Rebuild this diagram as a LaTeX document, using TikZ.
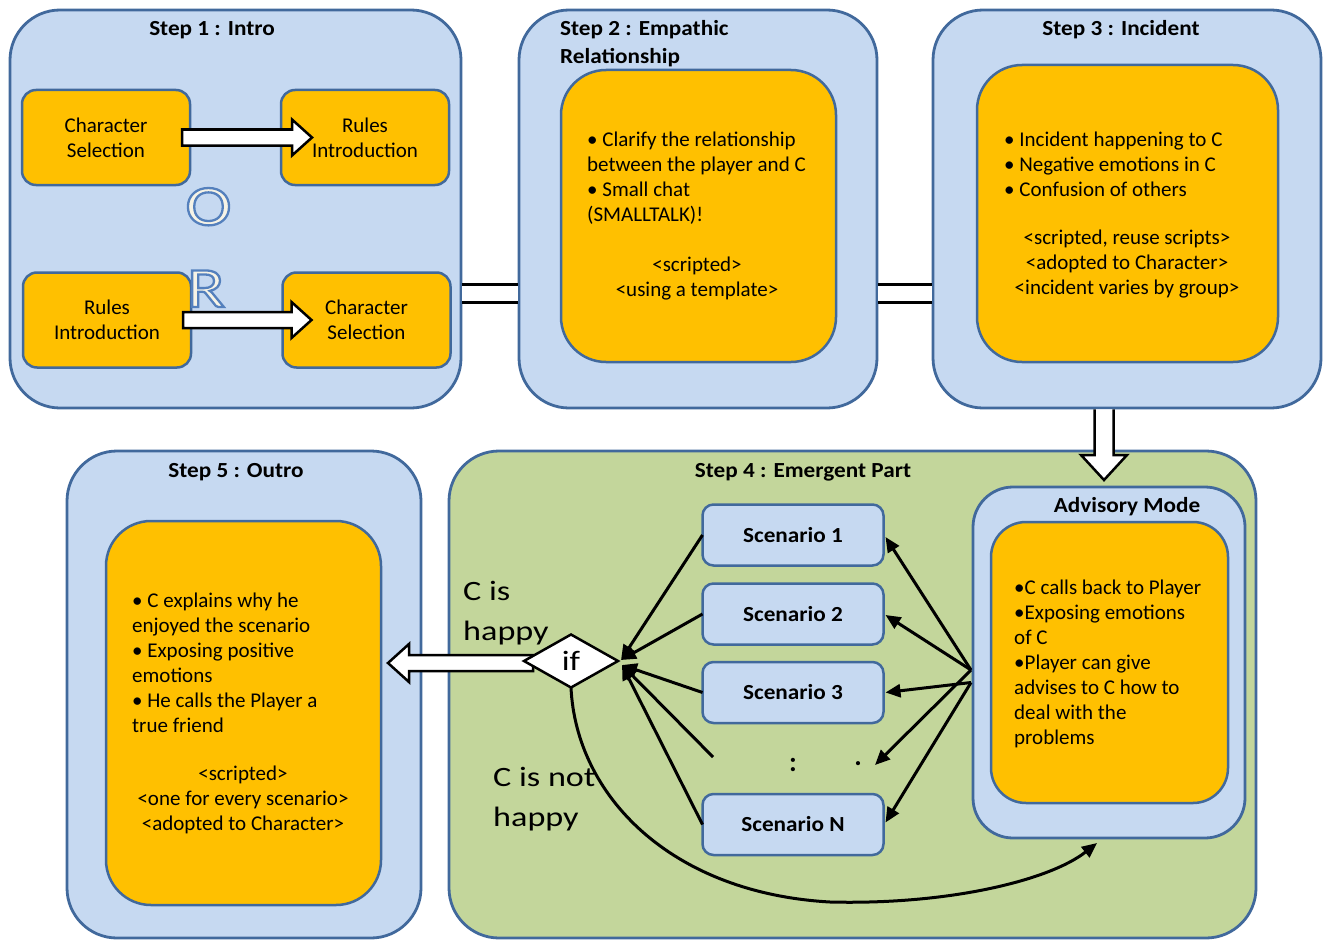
\documentclass[tikz,border=0pt]{standalone}
\usepackage{fontspec}
\setmainfont{Carlito}
\newfontfamily\widefont{Carlito}[FakeStretch=1.08]
\newfontfamily\xwidefont{Carlito}[FakeStretch=1.22]
\usetikzlibrary{arrows.meta,calc,shapes.geometric}
\definecolor{lblue}{HTML}{C6D9F1}
\definecolor{bborder}{HTML}{41699C}
\definecolor{ofill}{HTML}{FFC000}
\definecolor{gfill}{HTML}{C3D69B}
\definecolor{cream}{HTML}{F6F3E6}
\newcommand{\bodyfont}{\fontsize{21}{25}\selectfont}
\newcommand{\titlefont}{\widefont\bfseries\fontsize{21.5}{28}\selectfont}
\newcommand{\bigfont}{\xwidefont\fontsize{28}{40}\selectfont}
\newcommand{\orfont}{\xwidefont\fontsize{57}{57}\selectfont}
\newcommand{\outlined}[1]{\special{pdf:literal direct 2 Tr 2.3 w 0.33 0.50 0.74 RG}#1\special{pdf:literal direct 0 Tr}}
\pgfdeclarelayer{front}
\pgfsetlayers{main,front}
\tikzset{
 stepbox/.style={draw=bborder, line width=2.8pt, fill=lblue, rounded corners=50pt, inner sep=0pt, outer sep=0pt},
 greenbox/.style={stepbox, fill=gfill},
 orangebox/.style={draw=bborder, line width=2.5pt, fill=ofill, rounded corners=45pt, inner sep=0pt, outer sep=0pt},
 smallbox/.style={draw=bborder, line width=2.5pt, fill=ofill, rounded corners=14pt, inner sep=0pt, outer sep=0pt, align=center, font=\bodyfont, minimum width=168pt, minimum height=95pt},
 scenbox/.style={draw=bborder, line width=2.5pt, fill=lblue, rounded corners=11pt, minimum width=181pt, minimum height=61pt, inner sep=0pt, outer sep=0pt, font=\titlefont},
 titletext/.style={inner sep=0pt, font=\titlefont},
 bodytext/.style={inner sep=0pt, font=\bodyfont},
 bigtext/.style={inner sep=0pt, font=\bigfont, align=left, anchor=west},
 orletter/.style={inner sep=0pt, font=\orfont, anchor=base, text=cream},
 blockarrow/.style={draw=black, line width=2.5pt, fill=white, line join=miter},
 doubleconn/.style={draw=black, double=white, line width=3pt, double distance=15pt},
 thinarrow/.style={draw=black, line width=3pt, -{Triangle[length=15pt,width=13pt]}},
 ifshape/.style={diamond, draw=black, line width=2.5pt, fill=white, inner sep=0pt, outer sep=0pt, minimum width=94pt, minimum height=53pt, aspect=1.77, font=\bigfont},
}
\begin{document}
\begin{tikzpicture}[x=1pt,y=-1pt]
\useasboundingbox (0,0) rectangle (1324,939);
\clip (0,0) rectangle (1324,939);

% ---------- top row ----------
\node[stepbox, minimum width=451pt, minimum height=398pt] (s1) at (235.5,209) {};
\node[stepbox, minimum width=358pt, minimum height=398pt] (s2) at (698,209) {};
\node[stepbox, minimum width=388pt, minimum height=398pt] (s3) at (1127,209) {};

\draw[doubleconn] ($(s1.east)+(1.4,84)$) -- ($(s2.west)+(-1.4,84)$);
\draw[doubleconn] ($(s2.east)+(1.4,84)$) -- ($(s3.west)+(-1.4,84)$);

% Step 1
\node[titletext] (t1) at (212,30) {Step 1 : Intro};
\node[smallbox] (cs1) at (106,137.5) {Character\\Selection};
\node[smallbox] (ri1) at (365,137.5) {Rules\\Introduction};
\node[smallbox] (ri2) at (107,320) {Rules\\Introduction};
\node[smallbox] (cs2) at (366.5,320) {Character\\Selection};

\node[orletter] (oletter) at (208.5,225) {\outlined{O}};
\node[orletter] (rletter) at (206,307) {\outlined{R}};

\draw[blockarrow] let \p1=($(cs1.east)+(-8,0)$), \p2=($(ri1.west)+(31,0)$) in
  (\x1,\y1+8pt) -- (\x2-20pt,\y1+8pt) -- (\x2-20pt,\y1+18pt) -- (\x2,\y1) --
  (\x2-20pt,\y1-18pt) -- (\x2-20pt,\y1-8pt) -- (\x1,\y1-8pt) -- cycle;
\draw[blockarrow] let \p1=($(ri2.east)+(-8,0)$), \p2=($(cs2.west)+(29,0)$) in
  (\x1,\y1+8pt) -- (\x2-20pt,\y1+8pt) -- (\x2-20pt,\y1+18pt) -- (\x2,\y1) --
  (\x2-20pt,\y1-18pt) -- (\x2-20pt,\y1-8pt) -- (\x1,\y1-8pt) -- cycle;

% Step 2
\node[titletext, anchor=west, align=left] (t2) at (560,44) {Step 2 : Empathic\\Relationship};
\node[orangebox, minimum width=275pt, minimum height=292pt] (s2in) at (698.5,216) {};
\node[bodytext, anchor=west, align=left] (b2) at (587,178.5)
  {• Clarify the relationship\\between the player and C\\• Small chat\\(SMALLTALK)!};
\node[bodytext, align=center] (c2) at (697,279) {<scripted>\\<using a template>};

% Step 3
\node[titletext] (t3) at (1121,30) {Step 3 : Incident};
\node[orangebox, minimum width=301pt, minimum height=297pt] (s3in) at (1127.5,213.5) {};
\node[bodytext, anchor=west, align=left] (b3) at (1004,164)
  {• Incident happening to C\\• Negative emotions in C\\• Confusion of others};
\node[bodytext, align=center] (c3) at (1127,264.5)
  {<scripted, reuse scripts>\\<adopted to Character>\\<incident varies by group>};

% ---------- bottom row ----------
\node[greenbox, minimum width=807pt, minimum height=487pt] (s4) at (852.5,694.5) {};
\node[stepbox, minimum width=354pt, minimum height=487pt] (s5) at (244,694.5) {};
\node[orangebox, minimum width=275pt, minimum height=384pt] (s5in) at (243.5,713) {};
\node[titletext] (t5) at (236,472) {Step 5 : Outro};
\node[bodytext, anchor=west, align=left] (b5) at (132,662.5)
  {• C explains why he\\enjoyed the scenario\\• Exposing positive\\emotions\\• He calls the Player a\\true friend};
\node[bodytext, align=center] (c5) at (243,800)
  {<scripted>\\<one for every scenario>\\<adopted to Character>};

\node[titletext] (t4) at (803,472) {Step 4 : Emergent Part};

% Advisory mode
\node[stepbox, rounded corners=40pt, minimum width=272pt, minimum height=351pt] (adv) at (1109,662.5) {};
\node[orangebox, rounded corners=35pt, minimum width=237pt, minimum height=281pt] (advin) at (1109.5,662.5) {};
\node[titletext] (tadv) at (1127,507) {Advisory Mode};
\node[bodytext, anchor=west, align=left] (badv) at (1014,664)
  {•C calls back to Player\\•Exposing emotions\\of C\\•Player can give\\advises to C how to\\deal with the\\problems};

% down block arrow from step 3 to advisory mode
\draw[blockarrow] let \p1=($(s3.south)+(-23,1.4)$), \p2=($(adv.north)+(-5,-7)$) in
  (\x1-9.5pt,\y1) -- (\x1-9.5pt,\y2+25pt) -- (\x1-23pt,\y2+25pt) -- (\x1,\y2) --
  (\x1+23pt,\y2+25pt) -- (\x1+9.5pt,\y2+25pt) -- (\x1+9.5pt,\y1);

% scenarios
\node[scenbox] (sc1) at (793,535) {Scenario 1};
\node[scenbox] (sc2) at (793,614) {Scenario 2};
\node[scenbox] (sc3) at (793,692.5) {Scenario 3};
\node[scenbox] (scn) at (793,824.5) {Scenario N};
\node[inner sep=0pt, font=\bfseries\fontsize{28}{28}\selectfont] (dots1) at (793,765) {:};
\node[inner sep=0pt, font=\bfseries\fontsize{28}{28}\selectfont] (dots2) at (858,764) {.};
\coordinate (dotsin) at (713,757);
\coordinate (dotsout) at (875,765);

% decision
\begin{pgfonlayer}{front}
\node[ifshape] (ifd) at (571,661) {if};
\end{pgfonlayer}

\node[bigtext] (happy) at (463,613) {C is\\happy};
\node[bigtext] (nothappy) at (493,799) {C is not\\happy};

% left block arrow to step 5
\draw[blockarrow] let \p1=($(ifd.west)+(9,2)$), \p2=($(s5in.east)+(7,0)$) in
  (\x1,\y1+8pt) -- (\x2+21pt,\y1+8pt) -- (\x2+21pt,\y1+19pt) -- (\x2,\y1) --
  (\x2+21pt,\y1-19pt) -- (\x2+21pt,\y1-8pt) -- (\x1,\y1-8pt) -- cycle;

% scenario -> if arrows
\coordinate (cvu) at ($(ifd.east)+(3,-1)$);
\coordinate (cvl) at ($(ifd.east)+(4,4)$);
\draw[thinarrow] (sc1.west) -- (cvu);
\draw[thinarrow] (sc2.west) -- (cvu);
\draw[thinarrow] (sc3.west) -- (cvl);
\draw[thinarrow] (dotsin) -- (cvl);
\draw[thinarrow] (scn.west) -- (cvl);

% advisory -> scenario arrows
\coordinate (au) at ($(adv.west)+(-2,7.5)$);
\coordinate (al) at ($(adv.west)+(-2,20)$);
\draw[thinarrow] (au) -- ($(sc1.east)+(2,2)$);
\draw[thinarrow] (au) -- ($(sc2.east)+(2,1)$);
\draw[thinarrow] (al) -- ($(sc3.east)+(2,0)$);
\draw[thinarrow] (au) -- (dotsout);
\draw[thinarrow] (al) -- ($(scn.east)+(2,-2)$);

% not happy loop back to advisory
\draw[thinarrow] (ifd.south) .. controls (576,795) and (670,893) .. (830,902)
  .. controls (950,905) and (1050,880) .. ($(adv.south)+(-12,5)$);
\end{tikzpicture}
\end{document}
